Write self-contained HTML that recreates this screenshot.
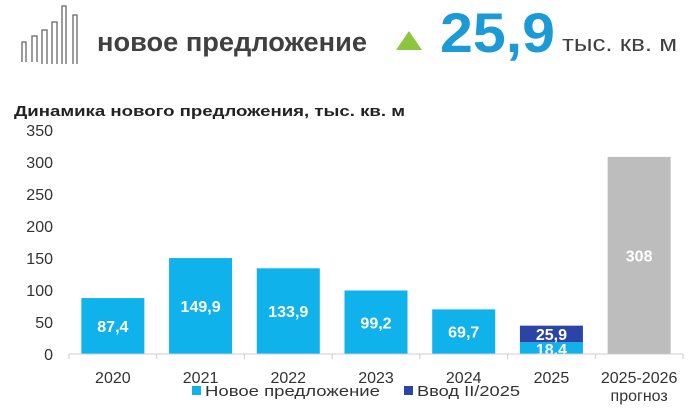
<!DOCTYPE html>
<html><head><meta charset="utf-8"><style>
body{margin:0;width:690px;height:409px;background:#fff;overflow:hidden;font-family:"Liberation Sans","DejaVu Sans",sans-serif;}
</style></head><body>
<svg width="690" height="409" xmlns="http://www.w3.org/2000/svg">
<g fill="none" stroke="#666" stroke-width="1.3">
<path d="M22 62V42h4v20"/><path d="M32 62V36h5v26"/><path d="M42 64V30h5v34"/><path d="M52 64V22h5v42"/><path d="M62 64V6h4v58"/><path d="M73 64V15h4v49"/>
</g>
<text x="97" y="51" font-size="27" font-weight="bold" fill="#404040" textLength="270" lengthAdjust="spacingAndGlyphs">новое предложение</text>
<polygon points="396,50 409,31 422,50" fill="#8cc63f"/>
<text x="440" y="52" font-size="56" font-weight="bold" fill="#1c9ad6" textLength="115" lengthAdjust="spacingAndGlyphs">25,9</text>
<text x="562" y="51" font-size="22" fill="#404040" textLength="115" lengthAdjust="spacingAndGlyphs">тыс. кв. м</text>
<text x="14" y="116" font-size="15" font-weight="bold" fill="#222" textLength="391" lengthAdjust="spacingAndGlyphs">Динамика нового предложения, тыс. кв. м</text>
<g id="yaxis"></g>
<g id="bars"></g>
<g id="xaxis"></g>
<g font-size="15" fill="#333">
<rect x="192" y="386" width="9" height="9" fill="#0fb2ea"/>
<text x="205" y="396" textLength="175" lengthAdjust="spacingAndGlyphs">Новое предложение</text>
<rect x="404" y="386" width="9" height="9" fill="#2b44a6"/>
<text x="417" y="396" textLength="103" lengthAdjust="spacingAndGlyphs">Ввод II/2025</text>
</g>
</svg>
<script>
const categories=["2020","2021","2022","2023","2024","2025","2025-2026"];
const newSupply=[87.4,149.9,133.9,99.2,69.7,18.4,308];
const inputQ2=[0,0,0,0,0,25.9,0];
const yTicks=[0,50,100,150,200,250,300,350];
const NS="http://www.w3.org/2000/svg";
const x0=69,x1=683,y0=354,yTop=130,yMax=350;
const cw=(x1-x0)/categories.length;
const y=v=>y0-(v/yMax)*(y0-yTop);
const xc=i=>x0+cw*(i+0.5);
function mk(tag,attrs,parent){const e=document.createElementNS(NS,tag);for(const k in attrs)e.setAttribute(k,attrs[k]);parent.appendChild(e);return e;}
const ya=document.getElementById('yaxis'),bg=document.getElementById('bars'),xa=document.getElementById('xaxis');
yTicks.forEach(t=>{const e=mk('text',{x:53,y:y(t)+6,'text-anchor':'end','font-size':16,fill:'#333'},ya);e.textContent=t;

});
const bw=63;
categories.forEach((c,i)=>{
 const forecast=i===categories.length-1;
 const r=mk('rect',{x:xc(i)-bw/2,y:y(newSupply[i]),width:bw,height:y0-y(newSupply[i]),fill:forecast?'#bdbdbd':'#0fb2ea'},bg);
 
 
 let lblY=(y(newSupply[i])+y0)/2+6;
 if(inputQ2[i]>0){
  const top=newSupply[i]+inputQ2[i];
  const r2=mk('rect',{x:xc(i)-bw/2,y:y(top),width:bw,height:y(newSupply[i])-y(top),fill:'#2b44a6'},bg);
  
  
  const t2=mk('text',{x:xc(i),y:(y(top)+y(newSupply[i]))/2+6,'text-anchor':'middle','font-size':16,'font-weight':'bold',fill:'#fff'},bg);
  t2.textContent=String(inputQ2[i]).replace('.',',');
  
  
  lblY=y(newSupply[i])+13;
 }
 const t=mk('text',{x:xc(i),y:lblY,'text-anchor':'middle','font-size':16,'font-weight':'bold',fill:'#fff'},bg);
 t.textContent=String(newSupply[i]).replace('.',',');
 
 
 const parts=forecast?[c,'прогноз']:[c];
 parts.forEach((p,k)=>{const l=mk('text',{x:xc(i),y:383+k*18,'text-anchor':'middle','font-size':16,fill:'#333'},xa);l.textContent=p;
 
 });
});
const ax=mk('line',{x1:x0,x2:x1,y1:y0,y2:y0,stroke:'#ccc','stroke-width':1},xa);


for(let i=0;i<=categories.length;i++){const tk=mk('line',{x1:x0+cw*i,x2:x0+cw*i,y1:y0,y2:y0+5,stroke:'#ccc'},xa);

}
</script>
</body></html>
